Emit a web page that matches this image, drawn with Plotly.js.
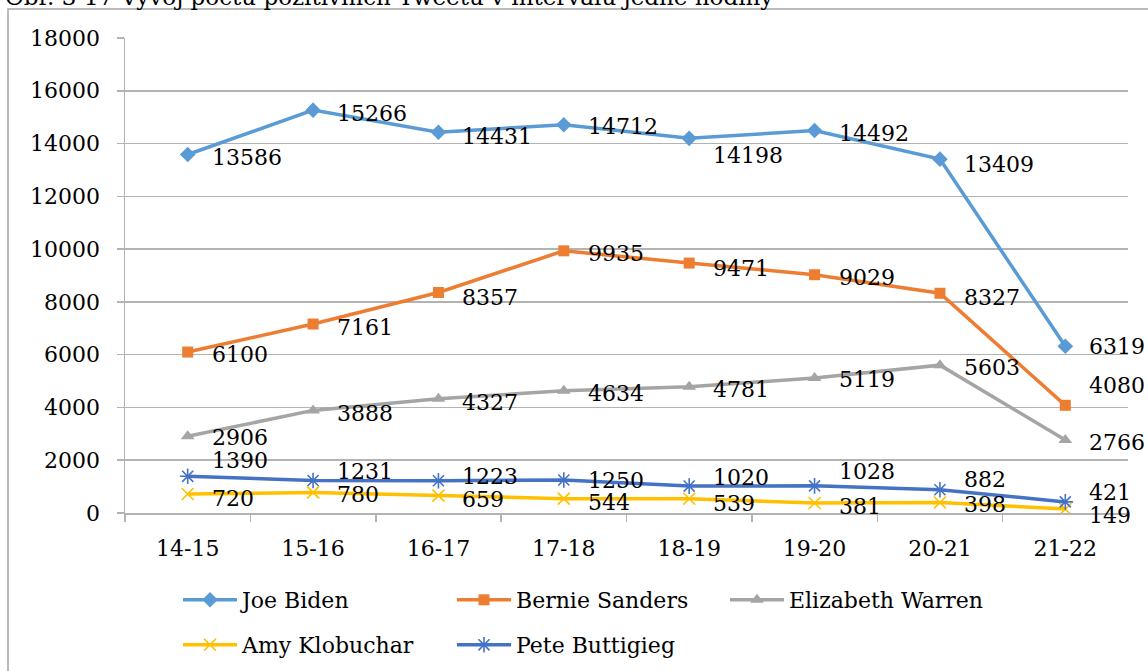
<!DOCTYPE html>
<html>
<head>
<meta charset="utf-8">
<script src="https://cdn.plot.ly/plotly-3.0.1.min.js"></script>
<style>html,body{margin:0;padding:0;background:#fff;overflow:hidden;}#chart{width:1148px;height:671px;}</style>
</head>
<body>
<div id="chart"></div>
<script>
// ---- data ----
const categories = ["14-15","15-16","16-17","17-18","18-19","19-20","20-21","21-22"];
const joeBiden        = [13586, 15266, 14431, 14712, 14198, 14492, 13409, 6319];
const bernieSanders   = [6100, 7161, 8357, 9935, 9471, 9029, 8327, 4080];
const elizabethWarren = [2906, 3888, 4327, 4634, 4781, 5119, 5603, 2766];
const amyKlobuchar    = [720, 780, 659, 544, 539, 381, 398, 149];
const peteButtigieg   = [1390, 1231, 1223, 1250, 1020, 1028, 882, 421];
const seriesNames = ["Joe Biden","Bernie Sanders","Elizabeth Warren","Amy Klobuchar","Pete Buttigieg"];
const titleText = "Obr. 3-17 Vývoj počtu pozitivních Tweetů v intervalu jedné hodiny";

// ---- styles ----
const FONT = "DejaVu Serif";
const styles = [
  {color:"#5B9BD5", symbol:"diamond", size:12, lw:0},
  {color:"#ED7D31", symbol:"square", size:11, lw:0},
  {color:"#A5A5A5", symbol:"triangle-up", size:12, lw:0},
  {color:"#FFC000", symbol:"x-thin-open", size:12, lw:1.6},
  {color:"#4472C4", symbol:"asterisk-open", size:13, lw:1.6}
];
// label vertical shifts in px (positive = up)
const labelShift = [
  [-3,-3,-4,-2,-17,-3,-5,0],
  [-2,-3,-5,-3,-5,-3,-4,20],
  [-1,-3,-4,-3,-3,-2,-2,-2],
  [-4,-2,-4,-4,-5,-4,-2,-6],
  [16,9,4,0,9,14,10,9]
];
// legend anchor positions in px (left of symbol line, row centre)
const legendPos = [[186,600],[460,600],[733,600],[186,645],[460,645]];

const allSeries = [joeBiden, bernieSanders, elizabethWarren, amyKlobuchar, peteButtigieg];
const legendIds = ["legend","legend2","legend3","legend4","legend5"];

const traces = allSeries.map((vals, k) => ({
  type: "scatter",
  mode: "lines+markers",
  name: seriesNames[k],
  x: categories,
  y: vals,
  legend: legendIds[k],
  line: {color: styles[k].color, width: 3.5},
  marker: {symbol: styles[k].symbol, size: styles[k].size, color: styles[k].color,
           line: {color: styles[k].color, width: styles[k].lw}},
  hoverinfo: "skip"
}));

const annotations = [];
allSeries.forEach((vals, k) => {
  vals.forEach((v, i) => {
    annotations.push({
      x: categories[i], y: v, xref: "x", yref: "y",
      text: String(v), showarrow: false,
      xanchor: "left", yanchor: "middle",
      xshift: 22, yshift: labelShift[k][i],
      font: {family: FONT, size: 22, color: "#000"}
    });
  });
});
// figure caption (cut at the top like the reference)
annotations.push({
  xref: "paper", yref: "paper", x: -0.122, y: (513 - (-3)) / 475,
  xanchor: "left", yanchor: "middle", showarrow: false,
  text: titleText, font: {family: FONT, size: 23, color: "#000"}
});

const gridCol = "#B3B3B3";
const PX = p => (p - 125) / 1003;
const PY = p => (513 - p) / 475;
const layout = {
  width: 1148, height: 671,
  margin: {l: 125, r: 20, t: 38, b: 158, pad: 0, autoexpand: false},
  paper_bgcolor: "#fff", plot_bgcolor: "#fff",
  font: {family: FONT, size: 22, color: "#000"},
  xaxis: {
    type: "category", categoryorder: "array", categoryarray: categories,
    range: [-0.5, categories.length - 0.5], autorange: false,
    showgrid: false, showline: true, linecolor: gridCol, linewidth: 1.5,
    ticks: "outside", tickson: "boundaries", ticklen: 7, tickcolor: gridCol, tickwidth: 1.5,
    tickfont: {family: FONT, size: 22, color: "#000"}, ticklabelstandoff: 15,
    zeroline: false, fixedrange: true, automargin: false
  },
  yaxis: {
    range: [0, 18000], dtick: 2000, tick0: 0, tickformat: "d",
    showgrid: true, gridcolor: gridCol, gridwidth: 1.5,
    showline: true, linecolor: gridCol, linewidth: 1.5,
    ticks: "outside", ticklen: 7, tickcolor: gridCol, tickwidth: 1.5,
    tickfont: {family: FONT, size: 22, color: "#000"}, ticklabelstandoff: 12,
    zeroline: false, fixedrange: true, automargin: false
  },
  shapes: [{
    type: "rect", xref: "paper", yref: "paper",
    x0: PX(8), x1: PX(1160), y0: PY(700), y1: PY(9),
    line: {color: "#A6A6A6", width: 1.5}, fillcolor: "rgba(0,0,0,0)", layer: "below"
  }],
  annotations: annotations,
  showlegend: true
};
legendIds.forEach((id, k) => {
  layout[id] = {
    orientation: "v", x: PX(legendPos[k][0] - 8), y: PY(legendPos[k][1]),
    xanchor: "left", yanchor: "middle",
    font: {family: FONT, size: 22, color: "#000"}, bgcolor: "rgba(0,0,0,0)",
    itemwidth: 54, borderwidth: 0
  };
});

Plotly.newPlot("chart", traces, layout, {displayModeBar: false, staticPlot: true});
</script>
</body>
</html>
